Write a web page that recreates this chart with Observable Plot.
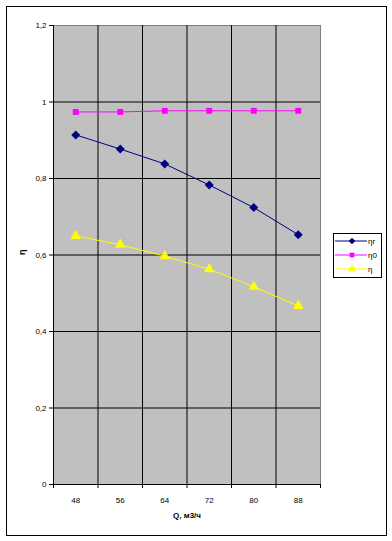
<!DOCTYPE html>
<html><head><meta charset="utf-8">
<script src="https://cdn.jsdelivr.net/npm/d3@7"></script>
<script src="https://cdn.jsdelivr.net/npm/@observablehq/plot@0.6"></script>
<style>
body{margin:0;background:#fff;font-family:"Liberation Sans",Arial,sans-serif;}
#wrap{position:relative;width:392px;height:541px;}
#border{position:absolute;left:6px;top:6px;width:379px;height:528px;border:1px solid #000;pointer-events:none;}
#legend{position:absolute;left:333px;top:233px;}
</style></head>
<body><div id="wrap"><div id="chart"></div><div id="border"></div><div id="legend"></div></div>
<script>
const Q = [48, 56, 64, 72, 80, 88];
const etaG = [0.914, 0.877, 0.838, 0.783, 0.724, 0.653];
const eta0 = [0.974, 0.974, 0.977, 0.977, 0.977, 0.977];
const eta = [0.650, 0.627, 0.597, 0.563, 0.517, 0.467];
const seriesNames = ["ηг", "η0", "η"];
const yTicks = [0, 0.2, 0.4, 0.6, 0.8, 1, 1.2];
const xBounds = [52, 60, 68, 76, 84];
const colors = ["#000080", "#ff00ff", "#ffff00"];

const squareDiamond = {draw(ctx, size) {
  const r = Math.sqrt(size / 2);
  ctx.moveTo(0, -r); ctx.lineTo(r, 0); ctx.lineTo(0, r); ctx.lineTo(-r, 0); ctx.closePath();
}};
const symbols = [squareDiamond, d3.symbolSquare, d3.symbolTriangle];
const radii = [3.6, 3.3, 3.9];
const allSeries = [etaG, eta0, eta];

const fmt = v => String(v).replace(".", ",");
const marks = [
  Plot.frame({fill: "#c0c0c0", stroke: "#808080"}),
  Plot.gridX(xBounds, {stroke: "#000", strokeOpacity: 1}),
  Plot.gridY(yTicks.filter(v => v > 0 && v < 1.2), {stroke: "#000", strokeOpacity: 1}),
  Plot.axisY(yTicks, {tickFormat: fmt, tickSize: 4, tickPadding: 3, fontSize: 8, label: null}),
  Plot.axisX([44, ...xBounds, 92], {tickSize: 4, tickFormat: () => "", label: null}),
  Plot.axisX(Q, {tickSize: 0, tickPadding: 13, fontSize: 8, label: null}),
  Plot.ruleX([44], {stroke: "#000"}),
  Plot.ruleY([0], {stroke: "#000"}),
  Plot.text(["η"], {frameAnchor: "left", dx: -31, rotate: -90, fontSize: 9, fontWeight: "bold"}),
  Plot.text(["Q, м3/ч"], {frameAnchor: "bottom", dy: 33, fontSize: 8, fontWeight: "bold"})
];
allSeries.forEach((s, i) => {
  const d = Q.map((q, j) => ({q, v: s[j]}));
  marks.push(Plot.line(d, {x: "q", y: "v", stroke: colors[i], strokeWidth: 1}));
  marks.push(Plot.dot(d, {x: "q", y: "v", symbol: symbols[i], fill: colors[i], r: radii[i], stroke: "none"}));
});

const chart = Plot.plot({
  width: 392, height: 541,
  marginLeft: 53, marginRight: 72, marginTop: 25, marginBottom: 57,
  style: {fontFamily: "Liberation Sans, Arial, sans-serif", color: "#000", background: "transparent"},
  x: {domain: [44, 92]},
  y: {domain: [0, 1.2]},
  marks
});
document.getElementById("chart").append(chart);

// legend
const lg = d3.select("#legend").append("svg").attr("width", 50).attr("height", 46);
lg.append("rect").attr("x", 0.5).attr("y", 0.5).attr("width", 48).attr("height", 44).attr("fill", "#fff").attr("stroke", "#000");
seriesNames.forEach((n, i) => {
  const y = 8 + i * 14;
  lg.append("line").attr("x1", 2).attr("x2", 34).attr("y1", y).attr("y2", y).attr("stroke", colors[i]);
  lg.append("path").attr("d", d3.symbol(symbols[i], [22, 22, 30][i])())
    .attr("transform", `translate(19,${y})`).attr("fill", colors[i]);
  lg.append("text").attr("x", 35).attr("y", y + 3).attr("font-size", 8).attr("fill", "#000").text(n);
});
</script></body></html>
